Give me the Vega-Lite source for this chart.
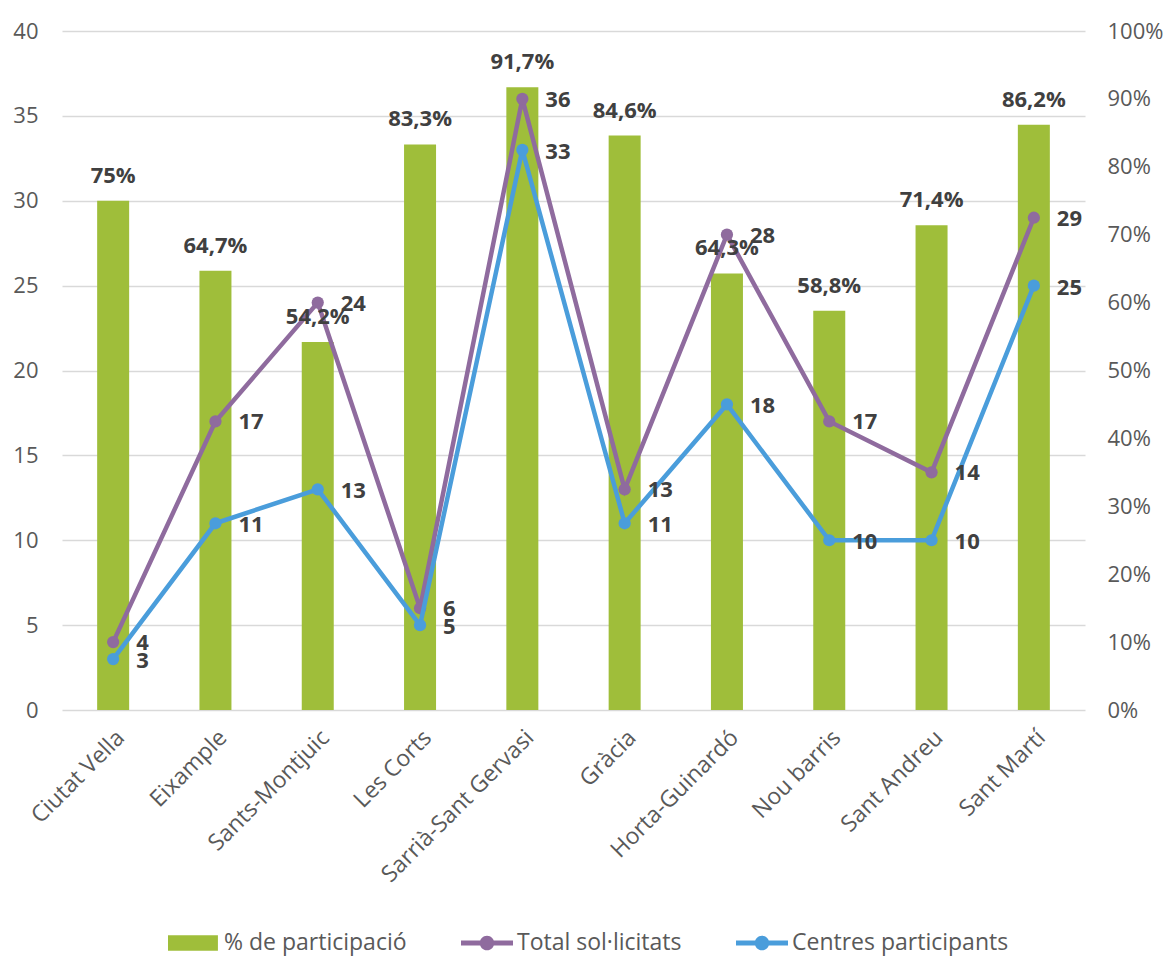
{
  "$schema": "https://vega.github.io/schema/vega-lite/v6.json",
  "width": 1023,
  "height": 679,
  "autosize": "none",
  "padding": {"left": 62, "top": 31, "right": 88, "bottom": 246},
  "background": "white",
  "config": {
    "view": {"stroke": null},
    "font": "Open Sans",
    "locale": {"number": {"decimal": ",", "thousands": ".", "grouping": [3], "currency": ["", " €"]}}
  },
  "data": {
    "values": [
      {"districte": "Ciutat Vella", "pct": 0.75, "total": 4, "centres": 3},
      {"districte": "Eixample", "pct": 0.647, "total": 17, "centres": 11},
      {"districte": "Sants-Montjuic", "pct": 0.542, "total": 24, "centres": 13},
      {"districte": "Les Corts", "pct": 0.833, "total": 6, "centres": 5},
      {"districte": "Sarrià-Sant Gervasi", "pct": 0.917, "total": 36, "centres": 33},
      {"districte": "Gràcia", "pct": 0.846, "total": 13, "centres": 11},
      {"districte": "Horta-Guinardó", "pct": 0.643, "total": 28, "centres": 18},
      {"districte": "Nou barris", "pct": 0.588, "total": 17, "centres": 10},
      {"districte": "Sant Andreu", "pct": 0.714, "total": 14, "centres": 10},
      {"districte": "Sant Martí", "pct": 0.862, "total": 29, "centres": 25}
    ]
  },
  "encoding": {
    "x": {
      "field": "districte",
      "type": "nominal",
      "sort": null,
      "scale": {"paddingInner": 0, "paddingOuter": 0},
      "axis": {
        "title": null,
        "labelAngle": -45,
        "labelFontSize": 23,
        "labelColor": "#595959",
        "labelFont": "Open Sans",
        "labelPadding": 16,
        "labelLimit": 0,
        "ticks": false,
        "domain": false,
        "grid": false
      }
    }
  },
  "layer": [
    {
      "mark": {"type": "bar", "size": 32},
      "encoding": {
        "y": {
          "field": "pct",
          "type": "quantitative",
          "scale": {"domain": [0, 1]},
          "axis": {
            "orient": "right",
            "title": null,
            "format": ".0%",
            "tickCount": 10,
            "grid": false,
            "ticks": false,
            "domain": false,
            "labelFontSize": 22,
            "labelColor": "#595959",
            "labelFont": "Open Sans",
            "labelPadding": 22
          }
        },
        "color": {
          "datum": "% de participació",
          "type": "nominal",
          "scale": {
            "domain": ["% de participació", "Total sol·licitats", "Centres participants"],
            "range": ["#9FBE3A", "#8F6B9E", "#4A9DDB"]
          },
          "legend": {
            "orient": "none",
            "legendX": 106,
            "legendY": 886,
            "direction": "horizontal",
            "title": null,
            "labelFont": "Open Sans",
            "labelFontSize": 23,
            "labelColor": "#595959",
            "labelLimit": 0,
            "symbolSize": 2704,
            "labelOffset": 4,
            "columnPadding": 54,
            "symbolStrokeWidth": 0,
            "encode": {
              "symbols": {
                "update": {
                  "shape": {"signal": "datum.value === '% de participació' ? 'M-1,-0.3H0.92V0.3H-1Z' : 'M-1,-0.1H1V0.1H-1Z M-0.28,0A0.28,0.28,0,1,1,0.28,0A0.28,0.28,0,1,1,-0.28,0Z'"},
                  "fill": {"signal": "scale('color', datum.value)"},
                  "stroke": {"value": "transparent"},
                  "strokeWidth": {"value": 0},
                  "opacity": {"value": 1}
                }
              }
            }
          }
        }
      }
    },
    {
      "encoding": {
        "y": {
          "type": "quantitative",
          "scale": {"domain": [0, 40]},
          "axis": {
            "orient": "left",
            "title": null,
            "values": [0, 5, 10, 15, 20, 25, 30, 35, 40],
            "grid": true,
            "gridColor": "#D9D9D9",
            "gridWidth": 1.5,
            "ticks": false,
            "domain": false,
            "labelFontSize": 22,
            "labelColor": "#595959",
            "labelFont": "Open Sans",
            "labelPadding": 24
          }
        }
      },
      "layer": [
        {
          "mark": {"type": "line", "strokeWidth": 4.5, "point": {"filled": true, "size": 150}},
          "encoding": {
            "y": {"field": "total", "type": "quantitative"},
            "color": {"datum": "Total sol·licitats", "type": "nominal"}
          }
        },
        {
          "mark": {"type": "line", "strokeWidth": 4.5, "point": {"filled": true, "size": 150}},
          "encoding": {
            "y": {"field": "centres", "type": "quantitative"},
            "color": {"datum": "Centres participants", "type": "nominal"}
          }
        },
        {
          "mark": {"type": "text", "align": "left", "baseline": "middle", "dx": 23, "dy": 1, "fontSize": 22, "fontWeight": "bold", "color": "#404040", "font": "Open Sans"},
          "encoding": {
            "y": {"field": "total", "type": "quantitative"},
            "text": {"field": "total", "type": "quantitative"}
          }
        },
        {
          "mark": {"type": "text", "align": "left", "baseline": "middle", "dx": 23, "dy": 2, "fontSize": 22, "fontWeight": "bold", "color": "#404040", "font": "Open Sans"},
          "encoding": {
            "y": {"field": "centres", "type": "quantitative"},
            "text": {"field": "centres", "type": "quantitative"}
          }
        }
      ]
    },
    {
      "mark": {"type": "text", "align": "center", "baseline": "middle", "dy": -25, "fontSize": 22, "fontWeight": "bold", "color": "#404040", "font": "Open Sans"},
      "encoding": {
        "y": {"field": "pct", "type": "quantitative", "scale": {"domain": [0, 1]}, "axis": null},
        "text": {"field": "pct", "type": "quantitative", "format": ".1~%"}
      }
    }
  ],
  "resolve": {"scale": {"y": "independent"}}
}
